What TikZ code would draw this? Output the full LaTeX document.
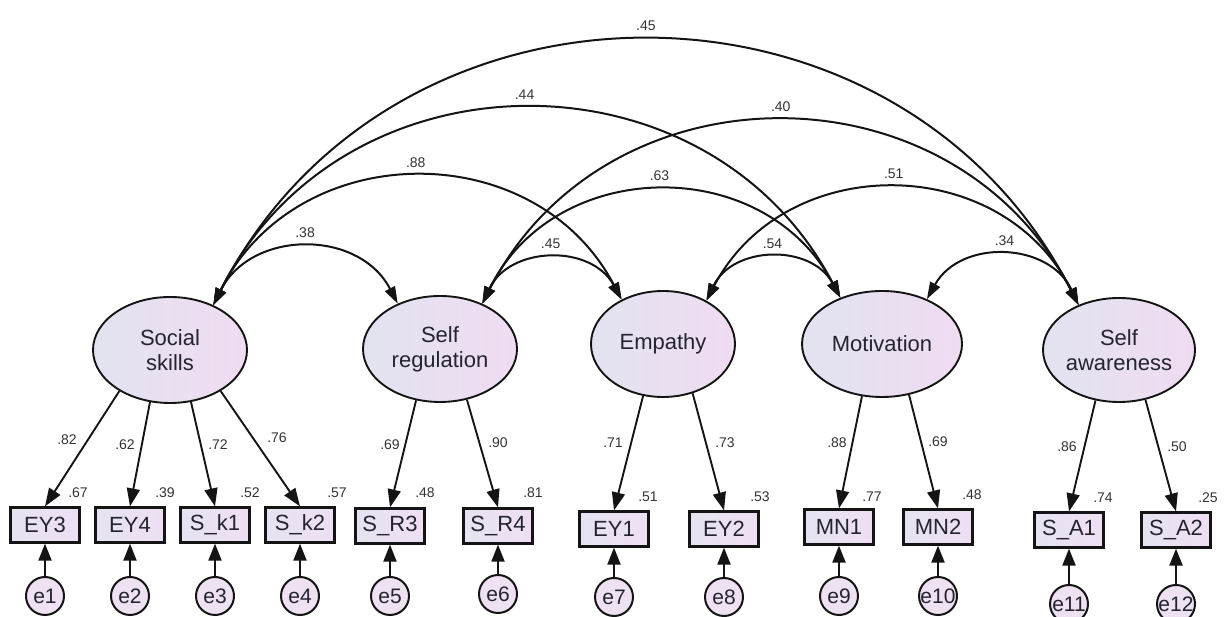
\documentclass[tikz,border=0pt]{standalone}
\usepackage{fontspec}
\setmainfont{Liberation Sans}
\usetikzlibrary{shapes.geometric,arrows.meta}
\definecolor{lineC}{HTML}{141414}
\definecolor{txtC}{HTML}{24242F}
\definecolor{numC}{HTML}{333333}
\definecolor{fillL}{HTML}{E2E3EF}
\definecolor{fillR}{HTML}{F0DCF3}
\definecolor{boxL}{HTML}{E6E3F1}
\definecolor{boxR}{HTML}{EEDFF3}
\definecolor{errF}{HTML}{EEE1F1}
\begin{document}
\begin{tikzpicture}[x=1pt,y=1pt,
  latent/.style={ellipse, draw=lineC, line width=1.9pt, left color=fillL, right color=fillR, inner sep=0pt, minimum height=106pt},
  lattext/.style={text=txtC, align=center, font=\fontsize{22}{25}\selectfont},
  obsbox/.style={rectangle, draw=lineC, line width=2.2pt, left color=boxL, right color=boxR, minimum width=69pt, minimum height=35pt, inner sep=0pt, text=txtC, font=\fontsize{22}{24}\selectfont},
  errc/.style={circle, draw=lineC, line width=2pt, fill=errF, minimum size=38pt, inner sep=0pt, text=txtC, font=\fontsize{21}{22}\selectfont},
  lbl/.style={text=numC, font=\fontsize{14}{16}\selectfont, inner sep=1pt},
  cov/.style={draw=lineC, line width=2pt, {Triangle[length=17pt,width=11pt]}-{Triangle[length=17pt,width=11pt]}, bend left=63, looseness=1.17},
  loadarr/.style={draw=lineC, line width=1.9pt, -{Triangle[length=18pt,width=13pt]}},
  errarr/.style={draw=lineC, line width=2pt, -{Triangle[length=17pt,width=13pt]}},
]
\useasboundingbox (0,0) rectangle (1225,617);

% latent variables
\node[latent, minimum width=154pt] (ss) at (170,267) {};
\node[lattext] (ssT) at (ss) {Social\\skills};
\node[latent, minimum width=154pt] (sr) at (440,268) {};
\node[lattext] (srT) at (sr) {Self\\regulation};
\node[latent, minimum width=144pt] (em) at (663,273) {};
\node[lattext] (emT) at (em) {Empathy};
\node[latent, minimum width=160pt] (mo) at (882,273) {};
\node[lattext] (moT) at (mo) {Motivation};
\node[latent, minimum width=152pt, minimum height=104pt] (sa) at (1119,267) {};
\node[lattext] (saT) at (sa) {Self\\awareness};

% observed variables
\node[obsbox] (ey3) at (45,92) {EY3};
\node[obsbox] (ey4) at (130,92) {EY4};
\node[obsbox] (sk1) at (215,92) {S\_k1};
\node[obsbox] (sk2) at (300,92) {S\_k2};
\node[obsbox] (sr3) at (390,91) {S\_R3};
\node[obsbox] (sr4) at (498,91) {S\_R4};
\node[obsbox] (ey1) at (614,88) {EY1};
\node[obsbox] (ey2) at (724,88) {EY2};
\node[obsbox] (mn1) at (839,90) {MN1};
\node[obsbox] (mn2) at (938,90) {MN2};
\node[obsbox] (sa1) at (1069,87) {S\_A1};
\node[obsbox] (sa2) at (1176,87) {S\_A2};

% error terms
\node[errc] (e1) at (45,21) {e1};
\node[errc] (e2) at (130,21) {e2};
\node[errc] (e3) at (215,21) {e3};
\node[errc] (e4) at (300,21) {e4};
\node[errc] (e5) at (390,21) {e5};
\node[errc] (e6) at (498,23) {e6};
\node[errc] (e7) at (614,20) {e7};
\node[errc] (e8) at (724,20) {e8};
\node[errc] (e9) at (839,21) {e9};
\node[errc] (e10) at (938,21) {e10};
\node[errc] (e11) at (1069,13) {e11};
\node[errc] (e12) at (1176,13) {e12};

\foreach \e/\b in {e1/ey3,e2/ey4,e3/sk1,e4/sk2,e5/sr3,e6/sr4,e7/ey1,e8/ey2,e9/mn1,e10/mn2,e11/sa1,e12/sa2}
  \draw[errarr] (\e.north) -- (\b.south);

% loadings
\draw[loadarr] (ss.219) -- (ey3.north);
\draw[loadarr] (ss.249) -- (ey4.north);
\draw[loadarr] (ss.292) -- (sk1.north);
\draw[loadarr] (ss.321) -- (sk2.north);
\draw[loadarr] (sr.245) -- (sr3.north);
\draw[loadarr] (sr.298) -- (sr4.north);
\draw[loadarr] (em.249) -- (ey1.north);
\draw[loadarr] (em.301) -- (ey2.north);
\draw[loadarr] (mo.249) -- (mn1.north);
\draw[loadarr] (mo.298) -- (mn2.north);
\draw[loadarr] (sa.245) -- (sa1.north);
\draw[loadarr] (sa.298) -- (sa2.north);

% loading labels
\node[lbl] (l1) at (67,177) {.82};
\node[lbl] (l2) at (125,172) {.62};
\node[lbl] (l3) at (218,172) {.72};
\node[lbl] (l4) at (277,179) {.76};
\node[lbl] (l5) at (390,172) {.69};
\node[lbl] (l6) at (498,174) {.90};
\node[lbl] (l7) at (613,174) {.71};
\node[lbl] (l8) at (725,174) {.73};
\node[lbl] (l9) at (837,174) {.88};
\node[lbl] (l10) at (938,175) {.69};
\node[lbl] (l11) at (1067,170) {.86};
\node[lbl] (l12) at (1177,170) {.50};

% R squared labels
\node[lbl] (r1) at (78,124) {.67};
\node[lbl] (r2) at (165,124) {.39};
\node[lbl] (r3) at (250,124) {.52};
\node[lbl] (r4) at (337,124) {.57};
\node[lbl] (r5) at (425,124) {.48};
\node[lbl] (r6) at (533,124) {.81};
\node[lbl] (r7) at (648,120) {.51};
\node[lbl] (r8) at (760,120) {.53};
\node[lbl] (r9) at (872,120) {.77};
\node[lbl] (r10) at (972,122) {.48};
\node[lbl] (r11) at (1103,119) {.74};
\node[lbl] (r12) at (1208,119) {.25};

% covariances
\draw[cov] (ss.46) to node[lbl, midway, above=8pt] (c1) {.38} (sr.133);
\draw[cov] (ss.46) to node[lbl, midway, above=8pt] (c2) {.88} (em.133);
\draw[cov] (ss.46) to node[lbl, midway, above=8pt] (c3) {.44} (mo.132);
\draw[cov] (ss.46) to node[lbl, midway, above=9pt] (c4) {.45} (sa.132);
\draw[cov] (sr.47) to node[lbl, midway, above=8pt] (c5) {.45} (em.133);
\draw[cov] (sr.47) to node[lbl, midway, above=8pt] (c6) {.63} (mo.132);
\draw[cov] (sr.47) to node[lbl, midway, above=8pt] (c7) {.40} (sa.132);
\draw[cov] (em.45) to node[lbl, midway, above=8pt] (c8) {.54} (mo.132);
\draw[cov] (em.45) to node[lbl, midway, above=8pt] (c9) {.51} (sa.132);
\draw[cov] (mo.45) to node[lbl, midway, above=8pt] (c10) {.34} (sa.132);
\end{tikzpicture}
\end{document}
